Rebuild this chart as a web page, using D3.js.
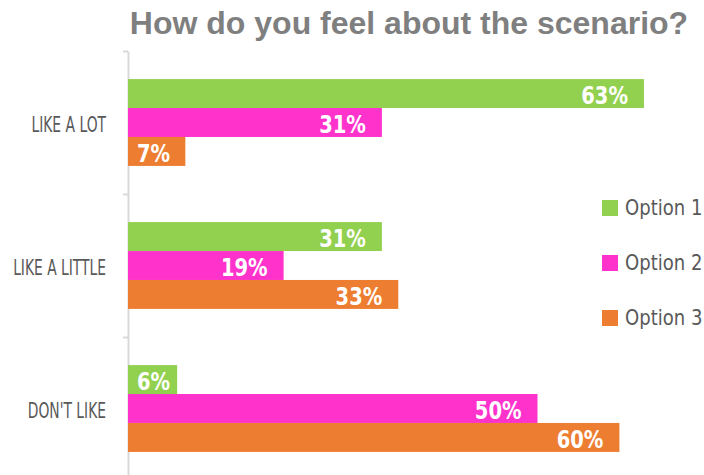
<!DOCTYPE html>
<html><head><meta charset="utf-8">
<script src="https://cdn.jsdelivr.net/npm/d3@7"></script>
<style>body{margin:0;background:#fff}</style>
</head><body>
<svg id="c" width="704" height="475"></svg>
<script>
const categories = ["LIKE A LOT", "LIKE A LITTLE", "DON'T LIKE"];
const seriesNames = ["Option 1", "Option 2", "Option 3"];
const option1 = [63, 31, 6];
const option2 = [31, 19, 50];
const option3 = [7, 33, 60];
const colors = ["#92d050", "#ff33cc", "#ed7d31"];
const series = [option1, option2, option3];

const svg = d3.select("#c");
const cond = "'DejaVu Sans',sans-serif";

svg.append("text").attr("x", 409).attr("y", 34).attr("text-anchor", "middle")
  .attr("font-family", "'Liberation Sans',Arial,sans-serif").attr("font-weight", "bold")
  .attr("font-size", 32).attr("fill", "#7f7f7f").text("How do you feel about the scenario?");

const y = d3.scaleBand().domain(categories).range([51, 480]).padding(0);
const yInner = d3.scaleBand().domain(seriesNames).range([0, y.bandwidth()]).paddingInner(0).paddingOuter(0.97);
const x = d3.scaleLinear().domain([0, 100]).range([128, 947]);

// axis
const yb = d3.scaleLinear().domain([0, 3]).range([51, 480]);
const ax = svg.append("g").attr("transform", "translate(128,0)")
  .call(d3.axisLeft(yb).tickValues([0, 1, 2, 3]).tickFormat("").tickSizeInner(5).tickSizeOuter(0));
ax.selectAll("path,line").attr("stroke", "#d9d9d9").attr("stroke-width", 2);

// category labels (horizontally condensed)
svg.selectAll(".cat").data(categories).join("g")
  .attr("transform", d => `translate(106,${y(d) + y.bandwidth() / 2 + 2}) scale(0.63,1)`)
  .append("text")
  .attr("text-anchor", "end").attr("dominant-baseline", "central")
  .attr("font-family", cond).attr("font-size", 22).attr("fill", "#595959")
  .text(d => d);

// bars
const rows = [];
categories.forEach((c, i) => series.forEach((s, j) => rows.push({c, s: seriesNames[j], v: s[i], j})));
svg.selectAll(".bar").data(rows).join("rect")
  .attr("x", x(0)).attr("y", d => y(d.c) + yInner(d.s))
  .attr("width", d => x(d.v) - x(0)).attr("height", yInner.bandwidth())
  .attr("fill", d => colors[d.j]);

const sx = 0.78;
const vg = svg.selectAll(".val").data(rows).join("g");
vg.append("text")
  .attr("text-anchor", "end").attr("dominant-baseline", "central")
  .attr("font-family", cond).attr("font-weight", "bold").attr("font-size", 25).attr("fill", "#fff")
  .text(d => d.v + "%");
vg.attr("transform", function(d) {
  const w = this.querySelector("text").getComputedTextLength() * sx;
  const xe = Math.max(x(d.v) - 16, x(0) + 9 + w);
  return `translate(${xe},${y(d.c) + yInner(d.s) + yInner.bandwidth() / 2 + 1.5}) scale(${sx},1)`;
});

// legend
const lg = svg.selectAll(".lg").data(seriesNames).join("g")
  .attr("transform", (d, i) => `translate(602,${200 + i * 55})`);
lg.append("rect").attr("width", 16).attr("height", 16).attr("fill", (d, i) => colors[i]);
lg.append("g").attr("transform", "translate(23,8) scale(0.86,1)")
  .append("text").attr("dominant-baseline", "central")
  .attr("font-family", cond).attr("font-size", 21).attr("fill", "#595959").text(d => d);
</script>
</body></html>
